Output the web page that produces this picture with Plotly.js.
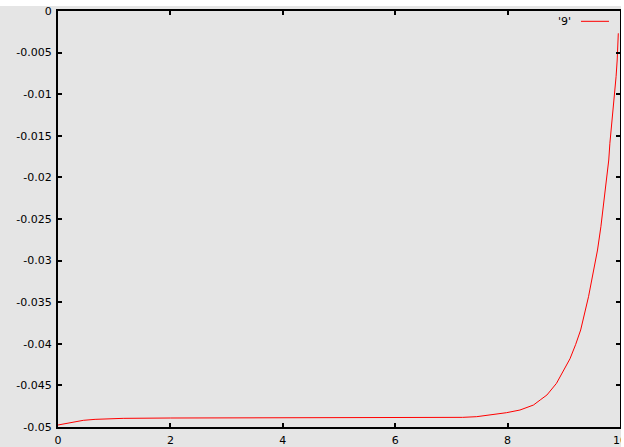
<!DOCTYPE html>
<html>
<head>
<meta charset="utf-8">
<script src="https://cdn.plot.ly/plotly-3.0.1.min.js"></script>
<style>
html,body{margin:0;padding:0;background:#ffffff;}
#chart{position:absolute;left:0;top:6px;width:621px;height:441px;}
</style>
</head>
<body>
<div id="chart"></div>
<script>
const seriesName = "'9'";
const xValues = [0, 0.15, 0.24, 0.45, 0.66, 1.16, 2, 3, 4, 5, 6, 6.8, 7.2, 7.45, 7.69, 7.98, 8.22, 8.46, 8.58, 8.70, 8.87, 8.99, 9.11, 9.21, 9.30, 9.44, 9.53, 9.60, 9.66, 9.69, 9.73, 9.76, 9.80, 9.82, 9.85, 9.88, 9.90, 9.93, 9.95, 9.97];
const yValues = [-0.04976, -0.04956, -0.0494, -0.0492, -0.04908, -0.04896, -0.04892, -0.04892, -0.04892, -0.04892, -0.04892, -0.04888, -0.04884, -0.04876, -0.04856, -0.04828, -0.04796, -0.04736, -0.04675, -0.04615, -0.04475, -0.04335, -0.0418, -0.0401, -0.03834, -0.03434, -0.03113, -0.02873, -0.02593, -0.02432, -0.02191, -0.01992, -0.01791, -0.0159, -0.01391, -0.0115, -0.00989, -0.0079, -0.00589, -0.00268];
const xTickVals = [0, 2, 4, 6, 8, 10];
const xTickText = ["0", "2", "4", "6", "8", "10"];
const yTickVals = [0, -0.005, -0.01, -0.015, -0.02, -0.025, -0.03, -0.035, -0.04, -0.045, -0.05];
const yTickText = ["0", "-0.005", "-0.01", "-0.015", "-0.02", "-0.025", "-0.03", "-0.035", "-0.04", "-0.045", "-0.05"];

const font = {family: "DejaVu Sans", size: 11, color: "#000000"};
const axisCommon = {
  showline: true, linecolor: "#000000", linewidth: 2, mirror: "ticks",
  ticks: "inside", ticklen: 4, tickwidth: 2, tickcolor: "#000000",
  showgrid: false, zeroline: false, tickfont: font, tickmode: "array",
  automargin: false, ticklabeloverflow: "allow"
};

const trace = {
  x: xValues, y: yValues, type: "scatter", mode: "lines", name: seriesName,
  line: {color: "#ff0000", width: 1}, showlegend: false, cliponaxis: true
};

const layout = {
  width: 621, height: 441,
  margin: {l: 58, r: 1, t: 5, b: 20, pad: 0},
  paper_bgcolor: "#e5e5e5", plot_bgcolor: "#e5e5e5",
  font: font,
  showlegend: false,
  xaxis: Object.assign({}, axisCommon, {range: [0, 10], tickvals: xTickVals, ticktext: xTickText, ticklabelstandoff: 2}),
  yaxis: Object.assign({}, axisCommon, {range: [-0.05, 0], tickvals: yTickVals, ticktext: yTickText, ticklabelstandoff: 2}),
  annotations: [{
    xref: "paper", yref: "paper", x: 0.9164, y: 0.9736, xanchor: "right", yanchor: "middle",
    text: seriesName, showarrow: false, font: font
  }],
  shapes: [{
    type: "line", xref: "paper", yref: "paper", x0: 0.9306, x1: 0.9804, y0: 0.9752, y1: 0.9752,
    line: {color: "#ff0000", width: 1}
  }]
};

Plotly.newPlot("chart", [trace], layout, {displayModeBar: false, staticPlot: true});
</script>
</body>
</html>
